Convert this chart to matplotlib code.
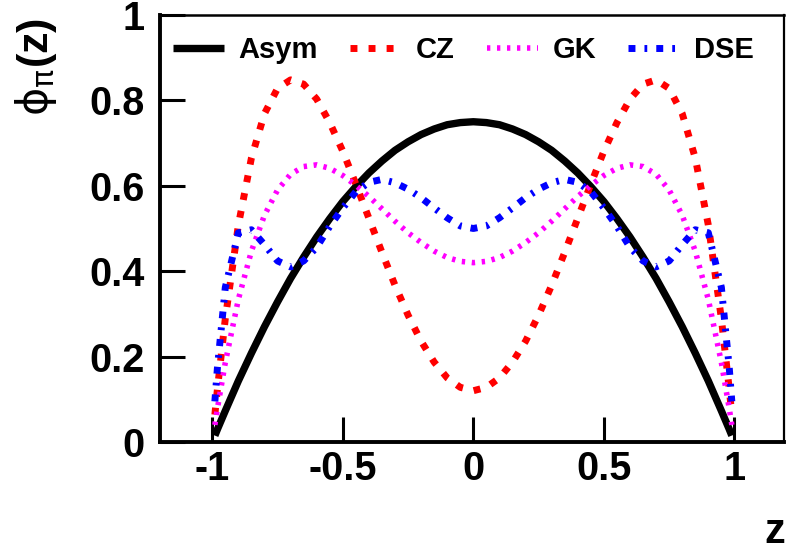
import matplotlib
matplotlib.use("Agg")
import matplotlib.pyplot as plt

plt.rcParams['font.family'] = ['Liberation Sans', 'DejaVu Sans']
plt.rcParams['mathtext.fontset'] = 'dejavusans'

# valores
z = [-0.99, -0.98, -0.95, -0.90, -0.85, -0.80, -0.75, -0.70, -0.65, -0.60, -0.55,
     -0.50, -0.45, -0.40, -0.35, -0.30, -0.25, -0.20, -0.15, -0.10, -0.05, 0.00,
     0.05, 0.10, 0.15, 0.20, 0.25, 0.30, 0.35, 0.40, 0.45, 0.50,
     0.55, 0.60, 0.65, 0.70, 0.75, 0.80, 0.85, 0.90, 0.95, 0.98, 0.99]

asym = [0.015, 0.030, 0.073, 0.143, 0.208, 0.270, 0.328, 0.383, 0.433, 0.480, 0.523,
        0.563, 0.598, 0.630, 0.658, 0.683, 0.703, 0.720, 0.733, 0.743, 0.748, 0.750,
        0.748, 0.743, 0.733, 0.720, 0.703, 0.683, 0.658, 0.630, 0.598, 0.563,
        0.523, 0.480, 0.433, 0.383, 0.328, 0.270, 0.208, 0.143, 0.073, 0.030, 0.015]

cz = [0.064, 0.125, 0.289, 0.508, 0.665, 0.769, 0.828, 0.848, 0.838, 0.803, 0.748,
      0.681, 0.604, 0.524, 0.444, 0.367, 0.297, 0.236, 0.187, 0.150, 0.128, 0.120,
      0.128, 0.150, 0.187, 0.236, 0.297, 0.367, 0.444, 0.524, 0.604, 0.681,
      0.748, 0.803, 0.838, 0.848, 0.828, 0.769, 0.665, 0.508, 0.289, 0.125, 0.064]

gk = [0.040, 0.079, 0.186, 0.334, 0.447, 0.531, 0.590, 0.627, 0.645, 0.649, 0.641,
      0.624, 0.601, 0.575, 0.546, 0.517, 0.490, 0.467, 0.447, 0.432, 0.423, 0.420,
      0.423, 0.432, 0.447, 0.467, 0.490, 0.517, 0.546, 0.575, 0.601, 0.624,
      0.641, 0.649, 0.645, 0.627, 0.590, 0.531, 0.447, 0.334, 0.186, 0.079, 0.040]

dse = [0.095, 0.175, 0.362, 0.490, 0.497, 0.462, 0.424, 0.410, 0.424, 0.456, 0.505,
       0.548, 0.586, 0.608, 0.615, 0.607, 0.592, 0.572, 0.548, 0.525, 0.506, 0.500,
       0.506, 0.525, 0.548, 0.572, 0.592, 0.607, 0.615, 0.608, 0.586, 0.548,
       0.505, 0.456, 0.424, 0.410, 0.424, 0.462, 0.497, 0.490, 0.362, 0.175, 0.095]

xticks = [-1, -0.5, 0, 0.5, 1]
xticklabels = ['-1', '-0.5', '0', '0.5', '1']
yticks = [0, 0.2, 0.4, 0.6, 0.8, 1]
yticklabels = ['0', '0.2', '0.4', '0.6', '0.8', '1']

fig = plt.figure(figsize=(7.86, 5.57), dpi=100)
ax = fig.add_axes([0.2036, 0.2065, 0.7939, 0.7666])

ax.plot(z, asym, color='black', lw=5.3, solid_capstyle='butt', label='Asym')
ax.plot(z, cz, color='red', lw=5, dashes=(1.0, 1.6), dash_capstyle='butt', label='CZ')
ax.plot(z, gk, color='magenta', lw=4, dashes=(0.6, 1.2), dash_capstyle='butt', label='GK')
ax.plot(z, dse, color='blue', lw=5, dashes=(1.0, 1.3, 0.4, 1.3), dash_capstyle='butt', label='DSE')

ax.set_xlim(-1.2, 1.19)
ax.set_ylim(0, 1)
ax.set_xticks(xticks)
ax.set_xticklabels(xticklabels)
ax.set_yticks(yticks)
ax.set_yticklabels(yticklabels)
ax.tick_params(direction='in', length=18, width=2.2, top=False, right=False,
               labelsize=28.5)
ax.tick_params(axis='y', pad=11)
ax.tick_params(axis='x', pad=6)
for lab in ax.get_xticklabels() + ax.get_yticklabels():
    lab.set_fontweight('bold')

ax.spines['left'].set_linewidth(2.8)
ax.spines['bottom'].set_linewidth(2.8)
ax.spines['top'].set_linewidth(1.8)
ax.spines['right'].set_linewidth(1.6)

ax.legend(loc='center left', bbox_to_anchor=(0.021, 0.918), ncol=4, frameon=False,
          prop={'weight': 'bold', 'size': 21}, handlelength=1.75, handletextpad=0.5,
          columnspacing=1.1, borderpad=0, borderaxespad=0)

fig.text(36 / 786, 1 - 18 / 557, r'$\mathrm{\phi}_{\mathrm{\pi}}$(z)', rotation=90,
         ha='center', va='top', fontsize=31, fontweight='bold')
fig.text(785 / 786, 1 - 543 / 557, 'z', ha='right', va='baseline',
         fontsize=30, fontweight='bold')

fig.savefig('out.png', dpi=100)
